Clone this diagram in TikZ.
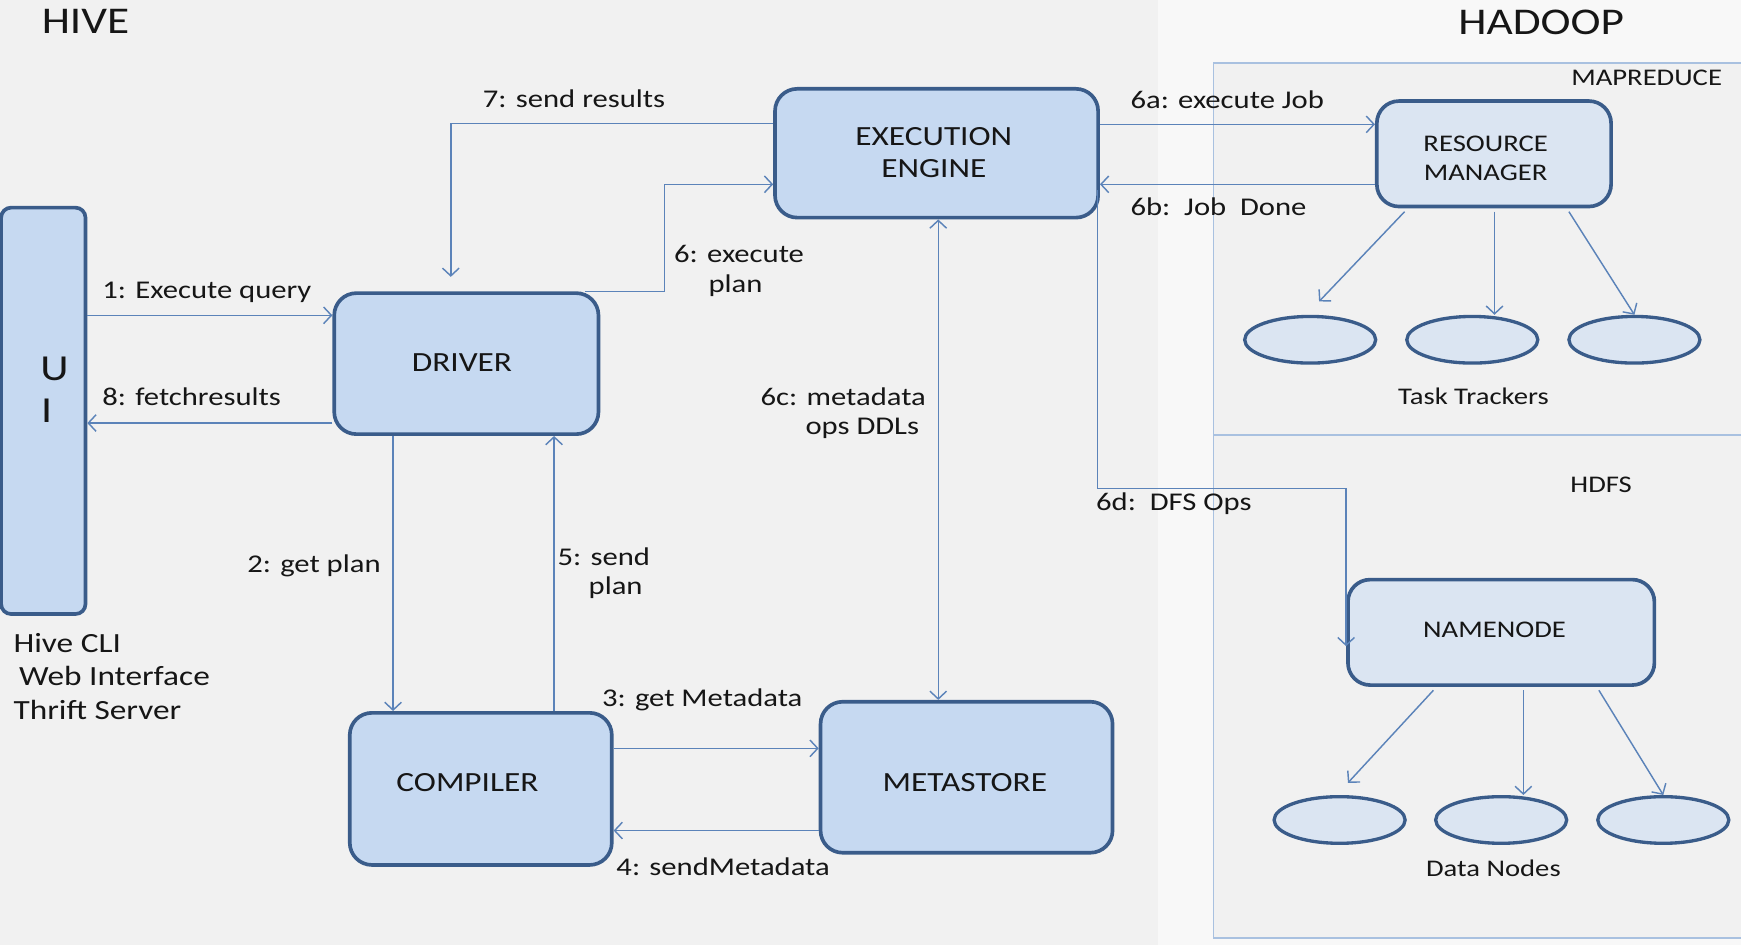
\documentclass[tikz,border=0pt]{standalone}
\usepackage{fontspec}
\setmainfont[FakeStretch=1.2]{Carlito}
\usetikzlibrary{arrows.meta,shapes.geometric}
\definecolor{bgL}{HTML}{F1F1F1}
\definecolor{bgR}{HTML}{F8F8F8}
\definecolor{boxfill}{HTML}{C6D9F1}
\definecolor{lightfill}{HTML}{DBE5F2}
\definecolor{bord}{HTML}{3A5C8A}
\definecolor{linec}{HTML}{5B83B9}
\definecolor{contc}{HTML}{A9C1E0}
\definecolor{txt}{HTML}{161616}
\newcommand\fsBox{\fontsize{25}{30}\selectfont}
\newcommand\fsSmall{\fontsize{21.5}{26}\selectfont}
\newcommand\fsLbl{\fontsize{23}{28}\selectfont}
\newcommand\fsUI{\fontsize{25}{30}\selectfont}
\newcommand\fsBig{\fontsize{34}{40}\selectfont}
\begin{document}
\begin{tikzpicture}[x=1pt,y=-1pt,
  box/.style={draw=bord, line width=3.3pt, fill=boxfill, rounded corners=20pt, inner sep=0pt},
  lbox/.style={box, fill=lightfill},
  btxt/.style={font=\fsBox, text=txt, align=center, inner sep=0pt},
  stxt/.style={font=\fsSmall, text=txt, align=center, inner sep=0pt},
  ell/.style={ellipse, draw=bord, line width=3pt, fill=lightfill, minimum width=118pt,
    minimum height=42pt, inner sep=0pt},
  arr/.style={draw=linec, line width=1.3pt, -{Straight Barb[length=7pt,width=15pt,line width=1.3pt]}},
  arrb/.style={draw=linec, line width=1.3pt, {Straight Barb[length=7pt,width=15pt,line width=1.3pt]}-{Straight Barb[length=7pt,width=15pt,line width=1.3pt]}},
  lbl/.style={font=\fsLbl, text=txt, inner sep=0pt},
  cont/.style={draw=contc, line width=1.6pt}
]
\useasboundingbox (0,0) rectangle (1568,851);
% backgrounds
\fill[bgL] (0,0) rectangle (1568,851);
\fill[bgR] (1043,0) rectangle (1568,851);
\fill[bgL] (1093,57) rectangle (1575,845);
\draw[cont] (1575,57) -- (1093,57) -- (1093,845) -- (1575,845);
\draw[cont] (1093,392) -- (1575,392);

% titles
\node[font=\fsBig, text=txt, inner sep=0pt] (hive) at (77,19) {HIVE};
\node[font=\fsBig, text=txt, inner sep=0pt] (hadoop) at (1388,20) {HADOOP};
\node[stxt] (mrlab) at (1483,70) {MAPREDUCE};
\node[stxt] (hdfslab) at (1442,437) {HDFS};

% main boxes
\node[box, rounded corners=9pt, minimum width=76pt, minimum height=366pt] (ui) at (39,370) {};
\node[font=\fontsize{33}{38}\selectfont, text=txt, inner sep=0pt] (uiU) at (49,332) {U};
\node[font=\fontsize{33}{38}\selectfont, text=txt, inner sep=0pt] (uiI) at (42,370) {I};
\node[box, minimum width=291pt, minimum height=116pt] (ee) at (843.5,138) {};
\node[btxt] (eetxt) at (841,137.5) {EXECUTION\\[-1pt]ENGINE};
\node[box, minimum width=238pt, minimum height=127pt] (drv) at (420,327.5) {};
\node[btxt] (drvtxt) at (416,327) {DRIVER};
\node[box, minimum width=236pt, minimum height=137pt] (cmp) at (433,710.5) {};
\node[btxt] (cmptxt) at (421,705) {COMPILER};
\node[box, minimum width=263pt, minimum height=136pt] (ms) at (870.5,700) {};
\node[btxt] (mstxt) at (869,705) {METASTORE};
\node[lbox, minimum width=211pt, minimum height=95pt] (rm) at (1345.5,138.5) {};
\node[stxt] (rmtxt) at (1338,142.5) {RESOURCE\\[0pt]MANAGER};
\node[lbox, minimum width=276pt, minimum height=95pt] (nn) at (1352,569.5) {};
\node[stxt] (nntxt) at (1346,567) {NAMENODE};

% ellipses
\node[ell] (t1) at (1180,306) {};
\node[ell] (t2) at (1326,306) {};
\node[ell] (t3) at (1472,306) {};
\node[ell] (d1) at (1206.5,738.5) {};
\node[ell] (d2) at (1352,738.5) {};
\node[ell] (d3) at (1498,738.5) {};
\node[stxt] (ttlab) at (1327,357) {Task Trackers};
\node[stxt] (dnlab) at (1345,782) {Data Nodes};

% UI caption
\node[font=\fsUI, text=txt, inner sep=0pt, anchor=west] (c1) at (12,579) {Hive CLI};
\node[font=\fsUI, text=txt, inner sep=0pt, anchor=west] (c2) at (17,609) {Web Interface};
\node[font=\fsUI, text=txt, inner sep=0pt, anchor=west] (c3) at (12,639) {Thrift Server};

% connectors
\draw[arr] ([yshift=43.5pt]drv.west -| ui.east) -- ([yshift=43.5pt]drv.west);
\draw[arr] ([yshift=-53.5pt]drv.west) -- ([yshift=-53.5pt]drv.west -| ui.east);
\draw[arr] ([xshift=-66pt]drv.south) -- ([xshift=-66pt]drv.south |- cmp.north);
\draw[arr] ([xshift=79pt]drv.south |- cmp.north) -- ([xshift=79pt]drv.south);
\draw[arr] ([yshift=36.5pt]cmp.east) -- ([yshift=36.5pt]cmp.east -| ms.west);
\draw[arr] ([yshift=-48pt]ms.west) -- ([yshift=-48pt]ms.west -| cmp.east);
\draw[arrb] ([xshift=1.5pt]ee.south) -- ([xshift=1.5pt]ee.south |- ms.north);
\draw[arr] ([yshift=27pt]ee.west) -| ([xshift=-14pt,yshift=13pt]drv.north);
\draw[arr] ([xshift=-14pt]drv.north east) -- ([xshift=58pt]drv.north east) |- ([yshift=-28pt]ee.west);
\draw[arr] ([yshift=26pt]ee.east) -- ([yshift=26pt]ee.east -| rm.west);
\draw[arr] ([yshift=-27.5pt]rm.west) -- ([yshift=-27.5pt]rm.west -| ee.east);
\draw[arr] ([xshift=-2pt,yshift=-33pt]ee.east) -- ++(0,269) -| ([yshift=-12.5pt]nn.west);

\draw[arr] ([xshift=-80.5pt,yshift=-3pt]rm.south) -- ([xshift=8pt,yshift=12pt]t1.north);
\draw[arr] ([xshift=0.5pt,yshift=-3pt]rm.south) -- ([xshift=20pt]t2.north);
\draw[arr] ([xshift=67.5pt,yshift=-3pt]rm.south) -- (t3.north);
\draw[arr] ([xshift=-61pt,yshift=-3pt]nn.south) -- ([xshift=7.5pt,yshift=11pt]d1.north);
\draw[arr] ([xshift=20pt,yshift=-3pt]nn.south) -- ([xshift=20pt]d2.north);
\draw[arr] ([xshift=88pt,yshift=-3pt]nn.south) -- (d3.north);

% labels
\node[lbl] (l7) at (517,89) {7: send results};
\node[lbl, anchor=west] (l6a) at (1018,90) {6a: execute Job};
\node[lbl, anchor=west] (l6b) at (1018,186) {6b:\ \ Job\ \ Done};
\node[lbl, anchor=west] (l6x) at (607,229) {6: execute};
\node[lbl, anchor=west] (l6y) at (638,257) {plan};
\node[lbl, anchor=east] (l6c) at (834,357) {6c: metadata};
\node[lbl, anchor=east] (l6cc) at (828,386) {ops DDLs};
\node[lbl, anchor=west] (l6d) at (987,454) {6d:\ \ DFS Ops};
\node[lbl, anchor=west] (l1) at (92,263) {1: Execute query};
\node[lbl, anchor=west] (l8) at (92,357) {8: fetchresults};
\node[lbl, anchor=east] (l2) at (343,510) {2: get plan};
\node[lbl, anchor=west] (l5) at (502,501) {5: send};
\node[lbl, anchor=west] (l5b) at (530,529) {plan};
\node[lbl, anchor=west] (l3) at (542,630) {3: get Metadata};
\node[lbl, anchor=west] (l4) at (555,781) {4: sendMetadata};
\end{tikzpicture}
\end{document}
